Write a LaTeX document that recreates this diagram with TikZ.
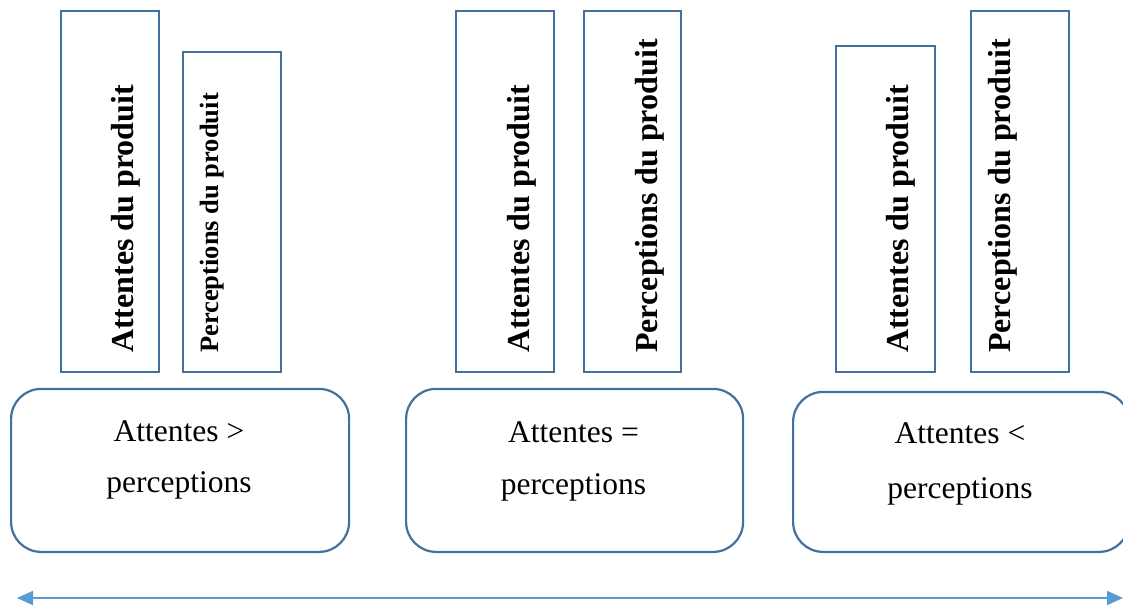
\documentclass[tikz,border=0pt]{standalone}
\usepackage{fontspec}
\setmainfont{Liberation Serif}
\usetikzlibrary{arrows.meta}
\definecolor{edgeblue}{HTML}{41719C}
\definecolor{axisblue}{HTML}{5B9BD5}
\begin{document}
\begin{tikzpicture}[x=1pt,y=1pt,
  bar/.style={draw=edgeblue,line width=2.2pt,rectangle,anchor=south west,inner sep=0pt},
  result/.style={draw=edgeblue,line width=2.2pt,rectangle,rounded corners=30pt,anchor=south west,inner sep=0pt},
  vlabel/.style={rotate=90,anchor=base west,inner sep=0pt,font=\bfseries\fontsize{32}{36}\selectfont},
  vsmall/.style={rotate=90,anchor=base west,inner sep=0pt,font=\bfseries\fontsize{26.5}{30}\selectfont},
  rlabel/.style={anchor=base,inner sep=0pt,font=\fontsize{31.5}{34}\selectfont}]
\useasboundingbox (0,0) rectangle (1123,606);
\clip (0,0) rectangle (1123,606);
% first case: expectations above perceptions
\node[bar,minimum width=98pt,minimum height=361pt] (a1) at (60,233) {};
\node[bar,minimum width=98pt,minimum height=320pt] (p1) at (182,233) {};
\node[vlabel] (ta1) at (133,253) {Attentes du produit};
\node[vsmall] (tp1) at (218,253) {Perceptions du produit};
\node[result,minimum width=338pt,minimum height=163pt] (r1) at (10,53) {};
\node[rlabel] (r1a) at (179,165) {Attentes >};
\node[rlabel] (r1b) at (179,114) {perceptions};
% second case: equal
\node[bar,minimum width=98pt,minimum height=361pt] (a2) at (455,233) {};
\node[bar,minimum width=97pt,minimum height=361pt] (p2) at (583,233) {};
\node[vlabel] (ta2) at (529,253) {Attentes du produit};
\node[vlabel] (tp2) at (657,253) {Perceptions du produit};
\node[result,minimum width=337pt,minimum height=163pt] (r2) at (405,53) {};
\node[rlabel] (r2a) at (573.5,164) {Attentes =};
\node[rlabel] (r2b) at (573.5,112) {perceptions};
% third case: expectations below perceptions
\node[bar,minimum width=99pt,minimum height=326pt] (a3) at (835,233) {};
\node[bar,minimum width=98pt,minimum height=361pt] (p3) at (970,233) {};
\node[vlabel] (ta3) at (908,253) {Attentes du produit};
\node[vlabel] (tp3) at (1010,253) {Perceptions du produit};
\node[result,minimum width=336pt,minimum height=160pt] (r3) at (792,53) {};
\node[rlabel] (r3a) at (960,163) {Attentes <};
\node[rlabel] (r3b) at (960,108) {perceptions};
% double-headed axis
\coordinate (axl) at (17,8);
\coordinate (axr) at (1123,8);
\draw[axisblue,line width=1.8pt,{Triangle[length=16pt,width=14pt]}-{Triangle[length=16pt,width=14pt]}] (axl) -- (axr);
\end{tikzpicture}
\end{document}
